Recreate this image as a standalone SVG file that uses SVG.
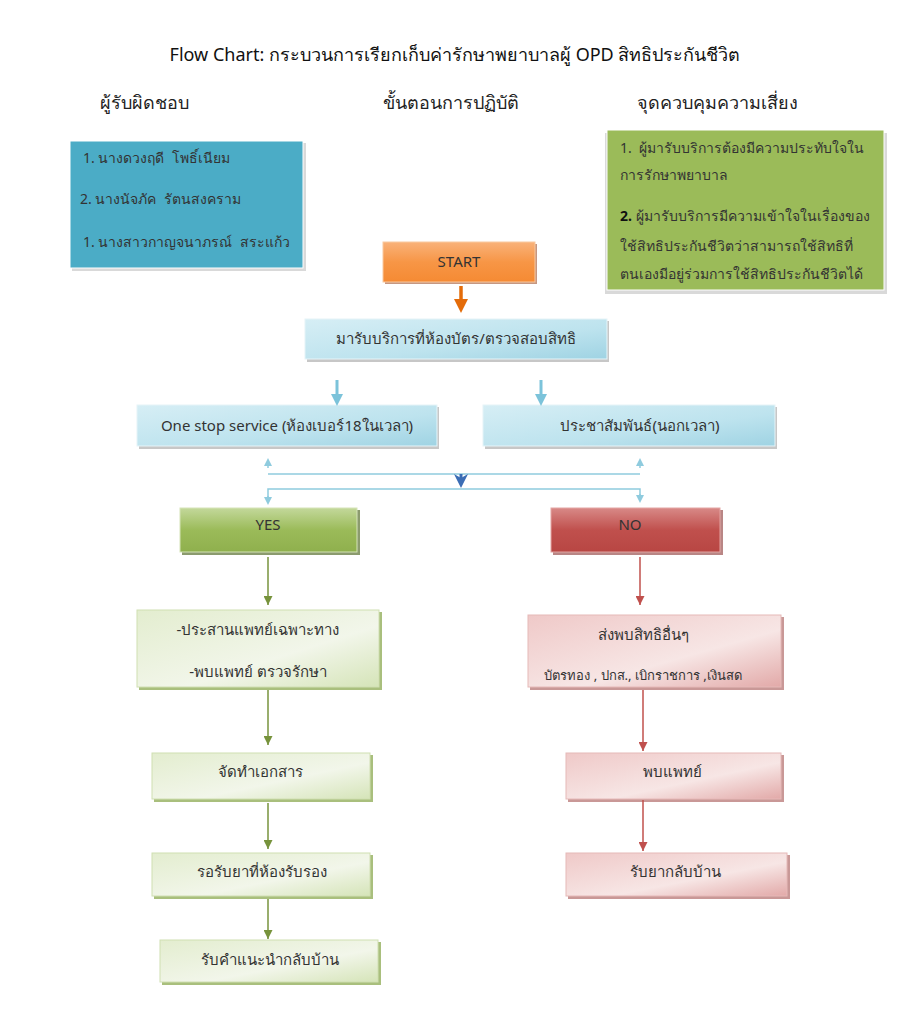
<svg xmlns="http://www.w3.org/2000/svg" width="911" height="1021" viewBox="0 0 911 1021">
<style>
text{font-family:"Noto Sans","DejaVu Sans","Liberation Sans",sans-serif;fill:#333;white-space:pre}
.title{font-size:18px;fill:#111}
.hdr{font-size:18px;fill:#222}
.t13{font-size:14px}
.t14{font-size:15px}
.t12{font-size:13px}
.c{text-anchor:middle}
.shadow{fill:#999;opacity:0.55}
</style>
<defs>
<linearGradient id="gOrange" x1="0" y1="0" x2="0" y2="1"><stop offset="0" stop-color="#f9b27a"/><stop offset="0.5" stop-color="#f79646"/><stop offset="1" stop-color="#f58a33"/></linearGradient>
<linearGradient id="gBlue" x1="0" y1="0" x2="1" y2="1"><stop offset="0" stop-color="#d6eef5"/><stop offset="0.6" stop-color="#bde3ee"/><stop offset="1" stop-color="#9fd3e3"/></linearGradient>
<linearGradient id="gGreen" x1="0" y1="0" x2="0" y2="1"><stop offset="0" stop-color="#c3d89b"/><stop offset="0.5" stop-color="#9bbb59"/><stop offset="1" stop-color="#8fb04d"/></linearGradient>
<linearGradient id="gRed" x1="0" y1="0" x2="0" y2="1"><stop offset="0" stop-color="#d88987"/><stop offset="0.5" stop-color="#c0504d"/><stop offset="1" stop-color="#b84643"/></linearGradient>
<linearGradient id="gLGreen" x1="0" y1="0" x2="1" y2="1"><stop offset="0" stop-color="#e3edcf"/><stop offset="0.6" stop-color="#f2f6ea"/><stop offset="1" stop-color="#d5e4b8"/></linearGradient>
<linearGradient id="gLRed" x1="0" y1="0" x2="1" y2="1"><stop offset="0" stop-color="#efc9c8"/><stop offset="0.6" stop-color="#f7e6e5"/><stop offset="1" stop-color="#e2a9a8"/></linearGradient>
<marker id="mOrange" markerWidth="4" markerHeight="4" refX="2" refY="2" orient="auto" markerUnits="strokeWidth"><path d="M0,0 L4,2 L0,4 Z" fill="#e46c0a"/></marker>
<marker id="mBlue" markerWidth="4" markerHeight="4" refX="2" refY="2" orient="auto" markerUnits="strokeWidth"><path d="M0,0 L4,2 L0,4 Z" fill="#7cc3da"/></marker>
<marker id="mLBlue" markerWidth="8" markerHeight="8" refX="4" refY="4" orient="auto" markerUnits="userSpaceOnUse"><path d="M0,0 L8,4 L0,8 Z" fill="#8fcbde"/></marker>
<marker id="mDBlue" markerWidth="14" markerHeight="14" refX="7" refY="7" orient="auto" markerUnits="userSpaceOnUse"><path d="M0,0 L14,7 L0,14 L4,7 Z" fill="#3b6db5"/></marker>
<marker id="mGreen" markerWidth="9" markerHeight="9" refX="9" refY="4.5" orient="auto" markerUnits="userSpaceOnUse"><path d="M0,0 L9,4.5 L0,9 Z" fill="#77933c"/></marker>
<marker id="mRed" markerWidth="9" markerHeight="9" refX="9" refY="4.5" orient="auto" markerUnits="userSpaceOnUse"><path d="M0,0 L9,4.5 L0,9 Z" fill="#c0504d"/></marker>
</defs>
<rect width="911" height="1021" fill="#ffffff"/>

<g id="headings">
<text class="title c" x="455" y="61">Flow Chart: กระบวนการเรียกเก็บค่ารักษาพยาบาลผู้ OPD สิทธิประกันชีวิต</text>
<text class="hdr" x="100" y="109">ผู้รับผิดชอบ</text>
<text class="hdr" x="383" y="109">ขั้นตอนการปฏิบัติ</text>
<text class="hdr" x="637" y="109">จุดควบคุมความเสี่ยง</text>
</g>

<g id="responsible">
<rect x="72" y="143" width="234" height="128" fill="#d9d9d9"/>
<rect x="70" y="141" width="233" height="127" fill="#4bacc6" stroke="#ffffff" stroke-width="1"/>
<text class="t13" x="83" y="163">1. นางดวงฤดี  โพธิ์เนียม</text>
<text class="t13" x="80" y="204">2. นางนัจภัค  รัตนสงคราม</text>
<text class="t13" x="83" y="247">1. นางสาวกาญจนาภรณ์  สระแก้ว</text>
</g>

<g id="risk">
<rect x="605" y="133" width="282" height="161" fill="#d9d9d9"/>
<rect x="607" y="130" width="277" height="160" fill="#9bbb59" stroke="#ffffff" stroke-width="1"/>
<text class="t13" x="620" y="153">1.  ผู้มารับบริการต้องมีความประทับใจใน</text>
<text class="t13" x="620" y="180">การรักษาพยาบาล</text>
<text class="t13" x="620" y="221"><tspan font-weight="bold" fill="#111">2.</tspan> ผู้มารับบริการมีความเข้าใจในเรื่องของ</text>
<text class="t13" x="620" y="251">ใช้สิทธิประกันชีวิตว่าสามารถใช้สิทธิที่</text>
<text class="t13" x="620" y="279">ตนเองมีอยู่ร่วมการใช้สิทธิประกันชีวิตได้</text>
</g>

<g id="start">
<rect x="385" y="244" width="152" height="40" fill="#a0522d" opacity="0.6"/>
<rect x="383" y="242" width="152" height="40" fill="url(#gOrange)" stroke="#f9c9a0" stroke-width="1"/>
<text class="t14 c" x="459" y="267">START</text>
</g>

<g id="reception">
<rect x="307" y="321" width="302" height="41" class="shadow"/>
<rect x="305" y="319" width="302" height="40" fill="url(#gBlue)" stroke="#e6f4f8" stroke-width="1"/>
<text class="t14 c" x="456" y="344">มารับบริการที่ห้องบัตร/ตรวจสอบสิทธิ</text>
</g>

<g id="onestop">
<rect x="139" y="407" width="300" height="42" class="shadow"/>
<rect x="137" y="405" width="300" height="41" fill="url(#gBlue)" stroke="#e6f4f8" stroke-width="1"/>
<text class="t14 c" x="287" y="431">One stop service (ห้องเบอร์18ในเวลา)</text>
</g>

<g id="pr">
<rect x="485" y="407" width="292" height="42" class="shadow"/>
<rect x="483" y="405" width="292" height="41" fill="url(#gBlue)" stroke="#e6f4f8" stroke-width="1"/>
<text class="t14 c" x="640" y="431">ประชาสัมพันธ์(นอกเวลา)</text>
</g>

<g id="yes">
<rect x="182" y="510" width="178" height="45" fill="#5a7030" opacity="0.7"/>
<rect x="180" y="508" width="177" height="44" fill="url(#gGreen)" stroke="#d5e4b8" stroke-width="1"/>
<text class="t14 c" x="268" y="530">YES</text>
</g>

<g id="no">
<rect x="553" y="510" width="170" height="45" fill="#8a3533" opacity="0.6"/>
<rect x="551" y="508" width="169" height="44" fill="url(#gRed)" stroke="#e3a5a3" stroke-width="1"/>
<text class="t14 c" x="630" y="530">NO</text>
</g>

<g id="coordinate">
<rect x="139" y="612" width="243" height="78" fill="#a9bf7d"/>
<rect x="137" y="610" width="242" height="77" fill="url(#gLGreen)" stroke="#d0dfb2" stroke-width="1"/>
<text class="t14 c" x="258" y="635">-ประสานแพทย์เฉพาะทาง</text>
<text class="t14 c" x="258" y="677">-พบแพทย์ ตรวจรักษา</text>
</g>

<g id="otherrights">
<rect x="530" y="617" width="254" height="73" fill="#c99897"/>
<rect x="528" y="615" width="253" height="72" fill="url(#gLRed)" stroke="#e6b9b8" stroke-width="1"/>
<text class="t14 c" x="643" y="640">ส่งพบสิทธิอื่นๆ</text>
<text class="t12 c" x="643" y="680">บัตรทอง , ปกส., เบิกราชการ ,เงินสด</text>
</g>

<g id="documents">
<rect x="154" y="755" width="219" height="47" fill="#a9bf7d"/>
<rect x="152" y="753" width="218" height="46" fill="url(#gLGreen)" stroke="#d0dfb2" stroke-width="1"/>
<text class="t14 c" x="260" y="777">จัดทำเอกสาร</text>
</g>

<g id="seedoctor">
<rect x="568" y="755" width="216" height="47" fill="#c99897"/>
<rect x="566" y="753" width="215" height="46" fill="url(#gLRed)" stroke="#e6b9b8" stroke-width="1"/>
<text class="t14 c" x="672" y="777">พบแพทย์</text>
</g>

<g id="waitmed">
<rect x="154" y="855" width="219" height="44" fill="#a9bf7d"/>
<rect x="152" y="853" width="218" height="43" fill="url(#gLGreen)" stroke="#d0dfb2" stroke-width="1"/>
<text class="t14 c" x="262" y="877">รอรับยาที่ห้องรับรอง</text>
</g>

<g id="medhome">
<rect x="568" y="855" width="222" height="44" fill="#c99897"/>
<rect x="566" y="853" width="221" height="43" fill="url(#gLRed)" stroke="#e6b9b8" stroke-width="1"/>
<text class="t14 c" x="675" y="877">รับยากลับบ้าน</text>
</g>

<g id="advice">
<rect x="162" y="942" width="219" height="43" fill="#a9bf7d"/>
<rect x="160" y="940" width="218" height="42" fill="url(#gLGreen)" stroke="#d0dfb2" stroke-width="1"/>
<text class="t14 c" x="270" y="965">รับคำแนะนำกลับบ้าน</text>
</g>

<g id="connectors" fill="none">
<line x1="461" y1="286" x2="461" y2="306" stroke="#e46c0a" stroke-width="3.5" marker-end="url(#mOrange)"/>
<line x1="337" y1="380" x2="337" y2="400" stroke="#7cc3da" stroke-width="3" marker-end="url(#mBlue)"/>
<line x1="541" y1="380" x2="541" y2="400" stroke="#7cc3da" stroke-width="3" marker-end="url(#mBlue)"/>
<line x1="268" y1="468" x2="268" y2="462" stroke="#8fcbde" stroke-width="1.5" marker-end="url(#mLBlue)"/>
<line x1="640" y1="468" x2="640" y2="462" stroke="#8fcbde" stroke-width="1.5" marker-end="url(#mLBlue)"/>
<line x1="268" y1="474" x2="640" y2="474" stroke="#8fcbde" stroke-width="1.5"/>
<line x1="461" y1="474" x2="461" y2="481" stroke="#3b6db5" stroke-width="3" marker-end="url(#mDBlue)"/>
<polyline points="268,502 268,489 640,489 640,500" stroke="#8fcbde" stroke-width="1.5"/>
<line x1="268" y1="496" x2="268" y2="501" stroke="#8fcbde" stroke-width="1.5" marker-end="url(#mLBlue)"/>
<line x1="640" y1="494" x2="640" y2="499" stroke="#8fcbde" stroke-width="1.5" marker-end="url(#mLBlue)"/>
<line x1="268" y1="557" x2="268" y2="605" stroke="#77933c" stroke-width="1.5" marker-end="url(#mGreen)"/>
<line x1="640" y1="557" x2="640" y2="605" stroke="#c0504d" stroke-width="1.5" marker-end="url(#mRed)"/>
<line x1="268" y1="690" x2="268" y2="745" stroke="#77933c" stroke-width="1.5" marker-end="url(#mGreen)"/>
<line x1="643" y1="690" x2="643" y2="751" stroke="#c0504d" stroke-width="1.5" marker-end="url(#mRed)"/>
<line x1="268" y1="803" x2="268" y2="849" stroke="#77933c" stroke-width="1.5" marker-end="url(#mGreen)"/>
<line x1="643" y1="800" x2="643" y2="851" stroke="#c0504d" stroke-width="1.5" marker-end="url(#mRed)"/>
<line x1="268" y1="899" x2="268" y2="939" stroke="#77933c" stroke-width="1.5" marker-end="url(#mGreen)"/>
</g>
</svg>
